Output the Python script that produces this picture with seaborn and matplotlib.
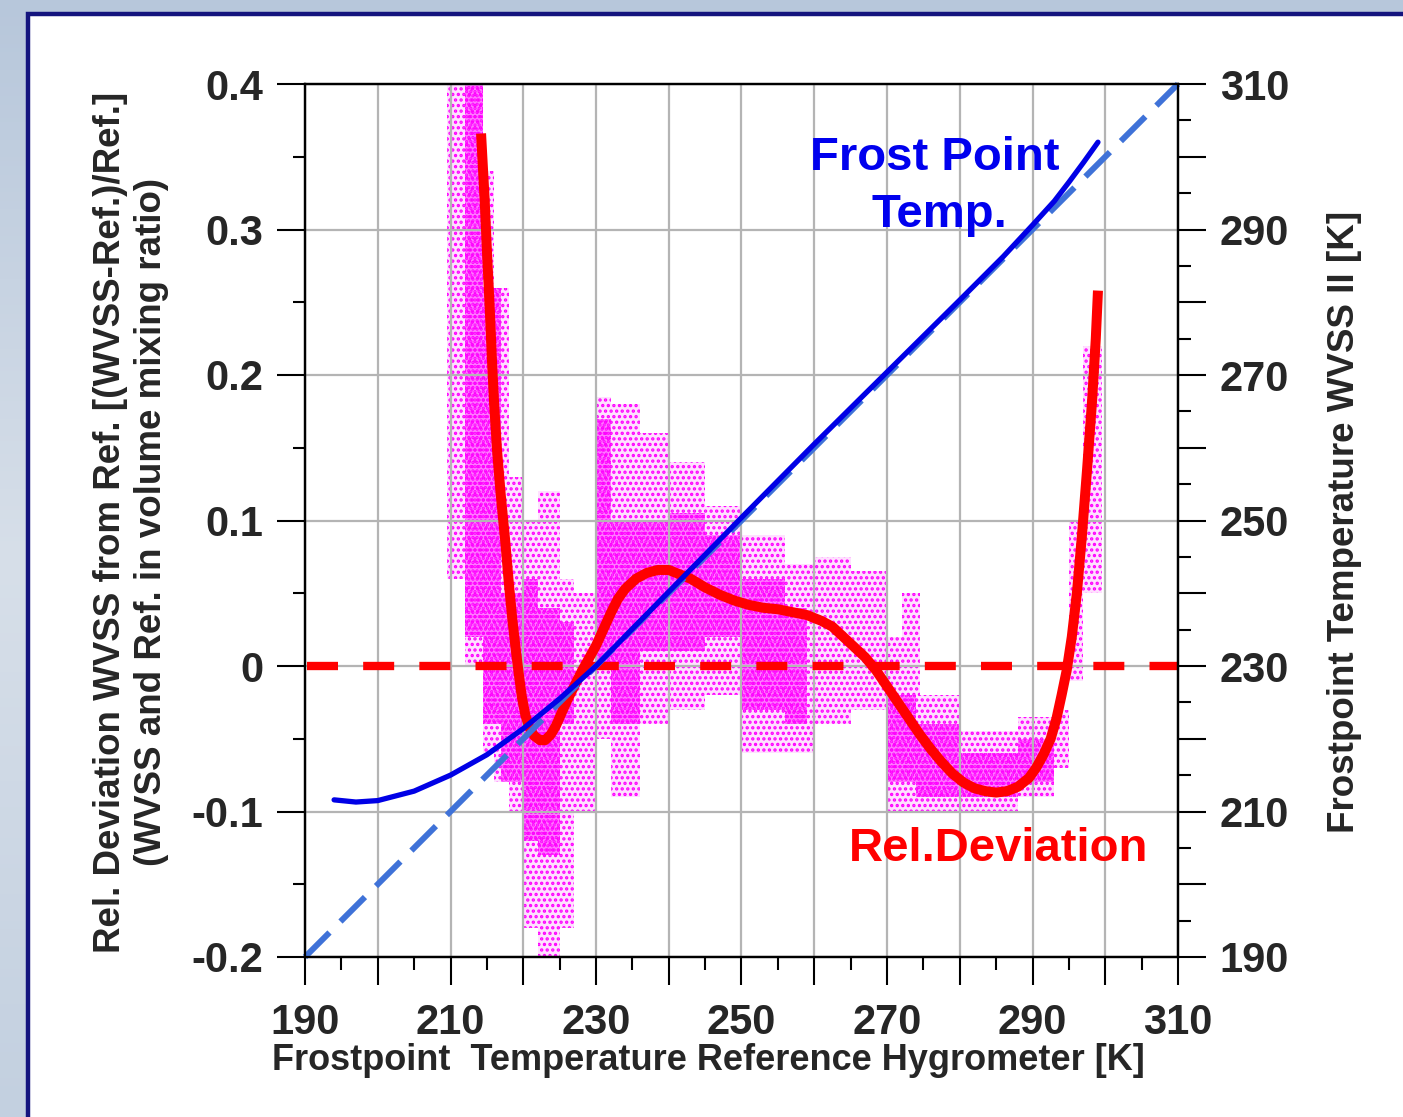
import numpy as np
import pandas as pd
import matplotlib
matplotlib.use("Agg")
import matplotlib.pyplot as plt
import seaborn as sns
from matplotlib.patches import Rectangle
from matplotlib.ticker import FixedLocator, FixedFormatter, MultipleLocator
from matplotlib.colors import LinearSegmentedColormap

# ---------------- data ----------------
# Red curve: relative deviation (left axis) vs reference frost point [K]
dev_T = [214.2, 214.7, 215.0, 215.4, 215.7, 216.0, 216.4, 216.9, 217.5, 218.0,
         218.5, 219.0, 219.4, 219.8, 220.3, 220.9, 221.5, 222.3, 223.0, 223.8,
         224.5, 225.2, 226.0, 227.0, 228.0, 229.0, 230.0, 231.0, 232.0, 233.0,
         234.0, 235.5, 237.0, 238.5, 240.0, 241.5, 243.0, 245.0, 247.0, 249.0,
         251.0, 253.0, 255.0, 257.0, 259.0, 261.0, 262.5, 264.0, 265.5, 267.0,
         268.5, 270.0, 271.5, 273.0, 274.5, 276.0, 277.5, 279.0, 280.5, 282.0,
         283.5, 285.0, 286.5, 288.0, 289.5, 290.5, 291.5, 292.5, 293.3, 294.0,
         294.7, 295.4, 296.1, 296.8, 297.5, 298.2, 298.7, 299.0]
dev_val = [0.366, 0.320, 0.286, 0.245, 0.210, 0.180, 0.148, 0.118, 0.087, 0.058,
           0.032, 0.010, -0.006, -0.021, -0.034, -0.043, -0.048, -0.051, -0.051, -0.047,
           -0.041, -0.033, -0.024, -0.014, -0.004, 0.005, 0.014, 0.025, 0.036, 0.046,
           0.053, 0.060, 0.064, 0.066, 0.066, 0.063, 0.060, 0.054, 0.049, 0.045,
           0.042, 0.040, 0.039, 0.037, 0.035, 0.031, 0.027, 0.020, 0.013, 0.006,
           -0.003, -0.014, -0.025, -0.036, -0.047, -0.057, -0.066, -0.074, -0.080, -0.084,
           -0.086, -0.087, -0.086, -0.083, -0.077, -0.070, -0.061, -0.050, -0.036, -0.020,
           -0.003, 0.020, 0.050, 0.090, 0.135, 0.183, 0.225, 0.258]

# Blue curve: WVSS II frost point (right axis) vs reference frost point [K]
fp_T = [194, 197, 200, 205, 210, 215, 220, 225, 230, 240, 250, 260, 270, 280,
        286, 290, 293, 295, 297, 299]
fp_wvss = [211.6, 211.3, 211.5, 212.8, 215.0, 217.8, 221.4, 225.5, 230.0, 240.2,
           250.4, 260.5, 270.4, 280.3, 286.3, 290.6, 293.9, 296.5, 299.2, 302.0]

# 1:1 line (right axis)
one_to_one_T = [190, 310]

# Scatter cloud of individual measurements, summarised as column extents
halo_T0 = [209.5, 212.0, 214.5, 216.0, 218.0, 220.0, 222.0, 225.0, 227.0, 230.0,
           232.0, 236.0, 240.0, 245.0, 250.0, 256.0, 260.0, 265.0, 270.0, 272.0,
           274.5, 280.0, 288.0, 293.0, 295.0, 297.0]
halo_T1 = [212.0, 214.5, 216.0, 218.0, 220.0, 222.0, 225.0, 227.0, 230.0, 232.0,
           236.0, 240.0, 245.0, 250.0, 256.0, 260.0, 265.0, 270.0, 272.0, 274.5,
           280.0, 288.0, 293.0, 295.0, 297.0, 299.5]
halo_lo = [0.06, 0.00, -0.06, -0.08, -0.10, -0.18, -0.20, -0.18, -0.10, -0.05,
           -0.09, -0.04, -0.03, -0.02, -0.06, -0.06, -0.04, -0.03, -0.10, -0.10,
           -0.10, -0.10, -0.09, -0.07, -0.01, 0.05]
halo_hi = [0.40, 0.40, 0.34, 0.26, 0.13, 0.10, 0.12, 0.06, 0.05, 0.185,
           0.18, 0.16, 0.14, 0.11, 0.09, 0.07, 0.075, 0.065, 0.02, 0.05,
           -0.02, -0.045, -0.035, -0.03, 0.10, 0.22]

core_T0 = [212.0, 214.5, 217.0, 220.0, 222.0, 225.0, 230.0, 232.0, 236.0, 240.0,
           245.0, 250.0, 256.0, 270.0, 274.0, 280.0, 288.0]
core_T1 = [214.5, 217.0, 220.0, 222.0, 225.0, 227.0, 232.0, 236.0, 240.0, 245.0,
           250.0, 256.0, 259.0, 274.0, 280.0, 288.0, 293.0]
core_lo = [0.02, -0.04, -0.08, -0.12, -0.13, -0.04, 0.00, -0.04, 0.01, 0.01,
           0.02, -0.03, -0.04, -0.08, -0.09, -0.09, -0.08]
core_hi = [0.40, 0.26, 0.05, 0.06, 0.04, 0.03, 0.17, 0.10, 0.10, 0.105,
           0.09, 0.06, 0.04, -0.02, -0.04, -0.06, -0.05]

x_ticks = list(range(190, 311, 10))
x_tick_labels = ["190", "", "210", "", "230", "", "250", "", "270", "", "290", "", "310"]
y_ticks = [-0.2, -0.1, 0.0, 0.1, 0.2, 0.3, 0.4]
y_tick_labels = ["-0.2", "-0.1", "0", "0.1", "0.2", "0.3", "0.4"]
y2_ticks = list(range(190, 311, 10))
y2_tick_labels = ["190", "", "210", "", "230", "", "250", "", "270", "", "290", "", "310"]

xlabel = "Frostpoint  Temperature Reference Hygrometer [K]"
ylabel = "Rel. Deviation WVSS from Ref. [(WVSS-Ref.)/Ref.]\n(WVSS and Ref. in volume mixing ratio)"
y2label = "Frostpoint Temperature WVSS II [K]"

# ---------------- styling ----------------
sns.set_style("white")
FONT = ["Liberation Sans", "DejaVu Sans"]
plt.rcParams["font.family"] = FONT
plt.rcParams["hatch.linewidth"] = 1.6

W, H = 1403, 1117
fig = plt.figure(figsize=(W / 100, H / 100), dpi=100)

# background gradient and white panel
bg = fig.add_axes([0, 0, 1, 1], zorder=-10)
grad = np.linspace(0, 1, 256).reshape(-1, 1)
cmap_bg = LinearSegmentedColormap.from_list("bg", ["#b7c7db", "#d7dfe9", "#c3d0e0"])
bg.imshow(grad, aspect="auto", cmap=cmap_bg, extent=[0, 1, 0, 1])
bg.set_axis_off()
panel = Rectangle((28 / W, -0.02), 1.1, 1 - 14 / H + 0.02, transform=fig.transFigure,
                  facecolor="white", edgecolor="#14147e", linewidth=3.2, zorder=-5)
fig.add_artist(panel)

L, R, T, B = 305, 1178, 84, 957
ax = fig.add_axes([L / W, 1 - B / H, (R - L) / W, (B - T) / H])
ax.set_facecolor("none")
ax2 = ax.twinx()

# scatter cloud (stippled columns)
magenta = "#ff00ff"
ax.bar(halo_T0, np.array(halo_hi) - np.array(halo_lo), bottom=halo_lo,
       width=np.array(halo_T1) - np.array(halo_T0), align="edge",
       facecolor=(1, 0, 1, 0.12), edgecolor=magenta, hatch="...",
       linewidth=0, zorder=1)
ax.bar(core_T0, np.array(core_hi) - np.array(core_lo), bottom=core_lo,
       width=np.array(core_T1) - np.array(core_T0), align="edge",
       facecolor=(1, 0, 1, 0.45), edgecolor=magenta, hatch="....",
       linewidth=0, zorder=1)

# zero line
ax.axhline(0, color="#ff0000", lw=6, linestyle=(6.5, (3.72, 3.02)), zorder=2)

# red deviation curve
dev_df = pd.DataFrame({"T": dev_T, "dev": dev_val})
sns.lineplot(data=dev_df, x="T", y="dev", ax=ax, color="#ff0000", lw=7.2,
             sort=False, estimator=None, zorder=3, solid_capstyle="butt")

# right axis: 1:1 line and WVSS frost point
ax2.plot(one_to_one_T, one_to_one_T, color="#3f72d8", lw=4.3,
         dashes=(5.8, 2.6), zorder=2, clip_on=False)
fp_df = pd.DataFrame({"T": fp_T, "wvss": fp_wvss})
sns.lineplot(data=fp_df, x="T", y="wvss", ax=ax2, color="#0000e6", lw=3.8,
             sort=False, estimator=None, zorder=3)

# axes limits & ticks
ax.set_xlim(190, 310)
ax.set_ylim(-0.2, 0.4)
ax2.set_ylim(190, 310)

ax.xaxis.set_major_locator(FixedLocator(x_ticks))
ax.xaxis.set_major_formatter(FixedFormatter(x_tick_labels))
ax.xaxis.set_minor_locator(MultipleLocator(5))
ax.yaxis.set_major_locator(FixedLocator(y_ticks))
ax.yaxis.set_major_formatter(FixedFormatter(y_tick_labels))
ax.yaxis.set_minor_locator(MultipleLocator(0.05))
ax2.yaxis.set_major_locator(FixedLocator(y2_ticks))
ax2.yaxis.set_major_formatter(FixedFormatter(y2_tick_labels))
ax2.yaxis.set_minor_locator(MultipleLocator(5))

for a in (ax, ax2):
    a.tick_params(which="major", length=20, width=1.5, color="black", direction="out")
    a.tick_params(which="minor", length=9, width=1.5, color="black", direction="out")
ax.tick_params(axis="x", which="both", top=False, bottom=True, pad=13)
ax.tick_params(axis="y", which="both", left=True, right=False, pad=10)
ax2.tick_params(axis="y", which="both", left=False, right=True, pad=10)
for lab in ax.get_xticklabels() + ax.get_yticklabels() + ax2.get_yticklabels():
    lab.set_fontsize(30)
    lab.set_fontweight("bold")

ax.grid(True, which="major", color="#b4b4b4", lw=1.6)
ax.set_axisbelow("line")
ax2.grid(False)

for a in (ax, ax2):
    for s in a.spines.values():
        s.set_color("black")
        s.set_linewidth(1.6)

# axis labels
fig.text(708 / W, 1 - 1061 / H, xlabel, ha="center", va="center",
         fontsize=26, fontweight="bold")
fig.text(131 / W, 1 - 522 / H, ylabel, ha="center", va="center", rotation=90,
         fontsize=26.5, fontweight="bold", linespacing=1.2,
         multialignment="center")
fig.text(1345 / W, 1 - 522 / H, y2label, ha="center", va="center", rotation=90,
         fontsize=26.5, fontweight="bold")

# annotations
fig.text(935 / W, 1 - 170 / H, "Frost Point", ha="center", va="baseline",
         fontsize=34, fontweight="bold", color="#0000ee")
fig.text(939 / W, 1 - 227 / H, "Temp.", ha="center", va="baseline",
         fontsize=34, fontweight="bold", color="#0000ee")
fig.text(999 / W, 1 - 861 / H, "Rel.Deviation", ha="center", va="baseline",
         fontsize=34, fontweight="bold", color="#ff0000")

ax.set_xlabel("")
ax.set_ylabel("")
ax2.set_ylabel("")

fig.savefig("out.png", dpi=100)
